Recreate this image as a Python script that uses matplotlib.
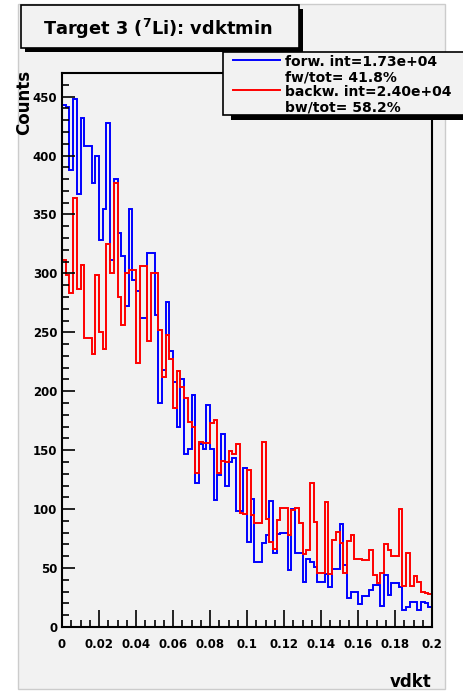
import numpy as np
import matplotlib
matplotlib.use("Agg")
import matplotlib.pyplot as plt
from matplotlib.patches import Rectangle
from matplotlib.lines import Line2D
from matplotlib.ticker import MultipleLocator

# ---------------- data ----------------
x_min, x_max, n_bins = 0.0, 0.2, 100

forward_counts = [
    443, 441, 388, 448, 367, 432, 408, 408, 377, 400,
    328, 355, 428, 311, 380, 334, 315, 272, 355, 294,
    285, 262, 262, 317, 317, 265, 190, 218, 276, 234,
    208, 170, 210, 147, 151, 197, 122, 155, 151, 188,
    151, 108, 129, 164, 120, 140, 143, 98, 98, 135,
    72, 109, 55, 55, 71, 78, 107, 63, 79, 80,
    80, 48, 100, 63, 63, 38, 58, 55, 51, 38,
    38, 45, 34, 49, 49, 87, 53, 25, 30, 30,
    19.5, 26, 26, 31, 36, 36, 18, 44, 27, 37,
    37, 34, 14, 17, 21.5, 21.5, 14, 21.5, 20, 17,
]

backward_counts = [
    311, 299, 283, 364, 287, 307, 245, 245, 232, 299,
    250, 236, 325, 300, 377, 280, 256, 300, 303, 303,
    224, 306, 306, 243, 300, 300, 252, 212, 248, 227,
    186, 217, 204, 194, 174, 170, 131, 157, 156, 156,
    173, 176, 131, 141, 140, 149, 147, 155, 97, 96,
    133, 95, 88, 88, 157, 92, 72, 66, 91, 101,
    101, 78, 99, 101, 88, 62, 65, 122, 89, 46,
    46, 106, 45, 74, 81, 71, 46, 73, 78, 58,
    58, 57, 57, 65, 44, 37, 46, 70, 65, 60,
    60, 100, 35, 63, 35, 43, 38.5, 30, 29, 28,
]

x_ticks = [0, 0.02, 0.04, 0.06, 0.08, 0.1, 0.12, 0.14, 0.16, 0.18, 0.2]
x_tick_labels = ["0", "0.02", "0.04", "0.06", "0.08", "0.1",
                 "0.12", "0.14", "0.16", "0.18", "0.2"]
y_ticks = [0, 50, 100, 150, 200, 250, 300, 350, 400, 450]
y_tick_labels = [str(v) for v in y_ticks]

title_text = r"Target 3 ($^{\mathbf{7}}$Li): vdktmin"
legend_lines = ["forw. int=1.73e+04", "fw/tot= 41.8%",
                "backw. int=2.40e+04", "bw/tot= 58.2%"]
x_label = "vdkt"
y_label = "Counts"

# ---------------- style ----------------
plt.rcParams['font.family'] = ['DejaVu Sans']
plt.rcParams['font.weight'] = 'bold'
plt.rcParams['mathtext.fontset'] = 'dejavusans'

W, H = 463, 693
BG = '#f2f2f2'
BLUE = '#0000ff'
RED = '#ff0000'


def fx(x):
    return x / W


def fy(y):
    return 1 - y / H


def frect(x0, y0, x1, y1, **kw):
    return Rectangle((fx(x0), fy(y1)), (x1 - x0) / W, (y1 - y0) / H,
                     transform=fig.transFigure, **kw)


fig = plt.figure(figsize=(W / 100, H / 100), dpi=100)
fig.patch.set_facecolor('white')

# canvas pad
fig.add_artist(frect(18, 4, 445, 689, facecolor=BG, edgecolor='#cccccc',
                     lw=1.0, zorder=0))

# axes
ax = fig.add_axes([fx(62), fy(627), 370 / W, 554 / H])
ax.set_facecolor(BG)
edges = np.linspace(x_min, x_max, n_bins + 1)
ax.stairs(forward_counts, edges, color=BLUE, lw=1.4, baseline=None)
ax.stairs(backward_counts, edges, color=RED, lw=1.4, baseline=None)

ax.set_xlim(x_min, x_max)
ax.set_ylim(0, 470)
for s in ax.spines.values():
    s.set_linewidth(1.5)
    s.set_color('black')

ax.set_xticks(x_ticks)
ax.set_xticklabels(x_tick_labels)
ax.xaxis.set_minor_locator(MultipleLocator(0.005))
ax.set_yticks(y_ticks)
ax.set_yticklabels(y_tick_labels)
ax.yaxis.set_minor_locator(MultipleLocator(10))

ax.tick_params(axis='x', which='major', direction='in', length=12, width=1.2,
               top=False, pad=8, labelsize=8.5)
ax.tick_params(axis='x', which='minor', direction='in', length=5, width=1.2,
               top=False)
ax.tick_params(axis='y', which='major', direction='in', length=9.5, width=1.2,
               right=False, pad=3.5, labelsize=8.5)
ax.tick_params(axis='y', which='minor', direction='in', length=5, width=1.2,
               right=False)
for lab in ax.get_xticklabels() + ax.get_yticklabels():
    lab.set_fontweight('bold')

# axis titles
fig.text(fx(33.5), fy(70), y_label, rotation=90, ha='right', va='top',
         fontsize=12, fontweight='bold')
fig.text(fx(431), fy(687), x_label, ha='right', va='baseline',
         fontsize=12, fontweight='bold')

# title box with shadow
fig.add_artist(frect(25, 9, 303, 52, facecolor='black', edgecolor='none',
                     zorder=5))
fig.add_artist(frect(21, 5, 299, 48, facecolor=BG, edgecolor='black',
                     lw=1.2, zorder=6))
fig.text(fx(43), fy(35), title_text, ha='left', va='baseline',
         fontsize=12.8, fontweight='bold', zorder=7)

# legend box with shadow
fig.add_artist(frect(231, 57, 480, 120, facecolor='black', edgecolor='none',
                     zorder=5))
fig.add_artist(frect(223, 52, 475, 115, facecolor=BG, edgecolor='black',
                     lw=1.2, zorder=6))
fig.add_artist(Line2D([fx(233), fx(280)], [fy(60), fy(60)], color=BLUE,
                      lw=1.4, transform=fig.transFigure, zorder=7))
fig.add_artist(Line2D([fx(233), fx(280)], [fy(90), fy(90)], color=RED,
                      lw=1.4, transform=fig.transFigure, zorder=7))
for txt, yb in zip(legend_lines, [65.5, 81.5, 96.5, 111.5]):
    fig.text(fx(285), fy(yb), txt, ha='left', va='baseline', fontsize=10,
             fontweight='bold', zorder=7)

fig.savefig('out.png', dpi=100, facecolor=fig.get_facecolor())
